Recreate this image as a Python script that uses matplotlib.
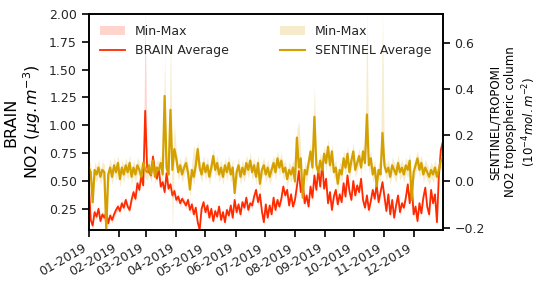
import numpy as np
import pandas as pd
import matplotlib
matplotlib.use('Agg')
import matplotlib.pyplot as plt
import matplotlib.dates as mdates
from matplotlib.patches import Patch
from matplotlib.lines import Line2D

# one value every two days, 2019-01-01 .. 2019-12-31
dates = pd.date_range('2019-01-01', '2019-12-31', freq='2D')

brain_avg = [
    0.49, 0.15, 0.10, 0.22, 0.18, 0.25, 0.14, 0.20, 0.17, 0.22,
    0.12, 0.19, 0.15, 0.20, 0.24, 0.27, 0.23, 0.30, 0.26, 0.33,
    0.27, 0.24, 0.33, 0.40, 0.34, 0.48, 0.42, 0.55, 0.46, 1.13,
    0.62, 0.58, 0.55, 0.72, 0.60, 0.52, 0.61, 0.45, 0.49, 0.40,
    0.57, 0.43, 0.47, 0.37, 0.41, 0.33, 0.36, 0.30, 0.34, 0.31,
    0.28, 0.33, 0.24, 0.29, 0.20, 0.26, 0.13, 0.06, 0.25, 0.31,
    0.22, 0.28, 0.17, 0.25, 0.14, 0.23, 0.18, 0.27, 0.15, 0.22,
    0.13, 0.24, 0.19, 0.28, 0.17, 0.33, 0.22, 0.29, 0.20, 0.31,
    0.26, 0.35, 0.24, 0.30, 0.28, 0.36, 0.42, 0.31, 0.38, 0.23,
    0.13, 0.29, 0.17, 0.28, 0.20, 0.35, 0.24, 0.33, 0.27, 0.34,
    0.45, 0.37, 0.42, 0.28, 0.38, 0.27, 0.33, 0.45, 0.59, 0.40,
    0.48, 0.30, 0.37, 0.27, 0.45, 0.35, 0.55, 0.42, 0.60, 0.45,
    0.66, 0.43, 0.52, 0.30, 0.40, 0.24, 0.36, 0.42, 0.29, 0.38,
    0.31, 0.48, 0.36, 0.55, 0.41, 0.33, 0.50, 0.37, 0.46, 0.40,
    0.52, 0.33, 0.26, 0.37, 0.24, 0.32, 0.42, 0.34, 0.47, 0.31,
    0.40, 0.49, 0.36, 0.23, 0.38, 0.20, 0.33, 0.17, 0.28, 0.37,
    0.22, 0.30, 0.26, 0.35, 0.47, 0.30, 0.48, 0.20, 0.27, 0.14,
    0.30, 0.21, 0.35, 0.44, 0.27, 0.20, 0.42, 0.30, 0.38, 0.13,
    0.55, 0.78, 0.85,
]

sentinel_avg = [
    0.06, 0.04, -0.09, 0.05, 0.03, 0.06, 0.02, 0.05, 0.04, -0.21,
    0.03, 0.06, 0.02, 0.07, 0.04, 0.08, 0.01, 0.06, 0.03, 0.07,
    0.04, 0.08, 0.02, 0.06, 0.03, 0.07, 0.05, 0.02, 0.08, 0.05,
    0.04, 0.07, 0.03, 0.09, 0.02, 0.06, 0.05, 0.08, 0.03, 0.37,
    0.06, 0.03, 0.31, 0.05, 0.14, 0.10, 0.04, 0.07, 0.03, 0.06,
    0.08, 0.04, -0.035, 0.05, 0.02, 0.07, 0.14, 0.06, 0.03, 0.08,
    0.04, 0.07, 0.02, 0.06, 0.11, 0.05, 0.08, 0.03, 0.06, 0.02,
    0.07, 0.04, 0.08, 0.03, 0.06, -0.05, 0.04, 0.07, 0.02, 0.06,
    0.03, 0.08, 0.05, 0.09, 0.04, 0.07, 0.02, 0.08, -0.01, 0.05,
    0.07, 0.03, 0.06, 0.02, 0.05, 0.08, 0.04, 0.10, 0.06, 0.09,
    0.04, 0.06, 0.01, 0.05, 0.03, 0.06, 0.00, 0.19, 0.06, 0.10,
    -0.07, 0.05, 0.03, 0.08, 0.13, 0.06, 0.28, 0.07, 0.04, 0.09,
    0.05, 0.12, 0.08, 0.15, 0.07, 0.13, 0.04, 0.06, -0.01, 0.05,
    0.03, 0.10, 0.06, 0.12, 0.04, 0.09, 0.13, 0.05, 0.08, 0.11,
    0.06, 0.13, 0.08, 0.29, 0.07, 0.10, 0.03, 0.06, -0.02, 0.05,
    0.03, 0.21, 0.07, 0.04, 0.06, 0.02, 0.07, 0.05, 0.03, 0.08,
    0.04, 0.06, 0.03, 0.07, 0.05, 0.09, -0.08, 0.04, 0.07, 0.10,
    0.05, 0.08, 0.03, 0.06, 0.04, 0.02, 0.05, 0.03, 0.06, 0.02,
    0.05, 0.09, 0.10,
]

# min-max envelope: typical half width, plus the few days where it sticks out
brain_spread = 0.03
brain_max_peaks = {29: 2.0}
sentinel_spread = 0.035
sentinel_max_peaks = {39: 0.55, 42: 0.62, 44: 0.25, 54: 0.16, 108: 0.26,
                      116: 0.42, 143: 0.73, 151: 0.73}
sentinel_min_peaks = {9: -0.22, 43: -0.22}

brain_avg = np.array(brain_avg)
sentinel_avg = np.array(sentinel_avg)
brain_lo = brain_avg - brain_spread
brain_hi = brain_avg + brain_spread
for k, v in brain_max_peaks.items():
    brain_hi[k] = v
sent_lo = sentinel_avg - sentinel_spread
sent_hi = sentinel_avg + sentinel_spread
for k, v in sentinel_max_peaks.items():
    sent_hi[k] = v
for k, v in sentinel_min_peaks.items():
    sent_lo[k] = v

red = '#ff2a00'
gold = '#d4a000'
txt = '#262626'

fig = plt.figure(figsize=(5.38, 3.03), dpi=100)
ax = fig.add_axes([0.165, 0.241, 0.658, 0.713])
ax2 = ax.twinx()

ax.fill_between(dates, brain_lo, brain_hi, color=red, alpha=0.2, lw=0)
ax.plot(dates, brain_avg, color=red, lw=1.3)
ax2.fill_between(dates, sent_lo, sent_hi, color=gold, alpha=0.2, lw=0)
ax2.plot(dates, sentinel_avg, color=gold, lw=1.6)

ax.set_ylim(0.06, 2.0)
ax.set_yticks([0.25, 0.5, 0.75, 1.0, 1.25, 1.5, 1.75, 2.0])
ax2.set_ylim(-0.21, 0.725)
ax2.set_yticks([-0.2, 0.0, 0.2, 0.4, 0.6])
ax.set_xlim(pd.Timestamp('2019-01-01'), pd.Timestamp('2019-12-31'))
ax.xaxis.set_major_locator(mdates.MonthLocator())
ax.xaxis.set_major_formatter(mdates.DateFormatter('%m-%Y'))
plt.setp(ax.get_xticklabels(), rotation=30, ha='right')

for a in (ax, ax2):
    a.tick_params(labelsize=9, labelcolor=txt, length=5, width=1.2)
    for s in a.spines.values():
        s.set_linewidth(1.2)

ax.set_ylabel('BRAIN\nNO2 ($\\mu g.m^{-3}$)', fontsize=11.5, color='black')
ax2.set_ylabel('SENTINEL/TROPOMI\nNO2 tropospheric column\n($10^{-4}mol.m^{-2}$)',
               fontsize=8.5, color='black', labelpad=3)

h1 = [Patch(color=red, alpha=0.2, lw=0), Line2D([], [], color=red, lw=1.3)]
leg1 = ax.legend(h1, ['Min-Max', 'BRAIN Average'], loc='upper left',
                 frameon=False, fontsize=9)
for t in leg1.get_texts():
    t.set_color(txt)
h2 = [Patch(color=gold, alpha=0.2, lw=0), Line2D([], [], color=gold, lw=1.5)]
leg2 = ax2.legend(h2, ['Min-Max', 'SENTINEL Average'], loc='upper right',
                  frameon=False, fontsize=9)
for t in leg2.get_texts():
    t.set_color(txt)

fig.savefig('out.png', dpi=100)
